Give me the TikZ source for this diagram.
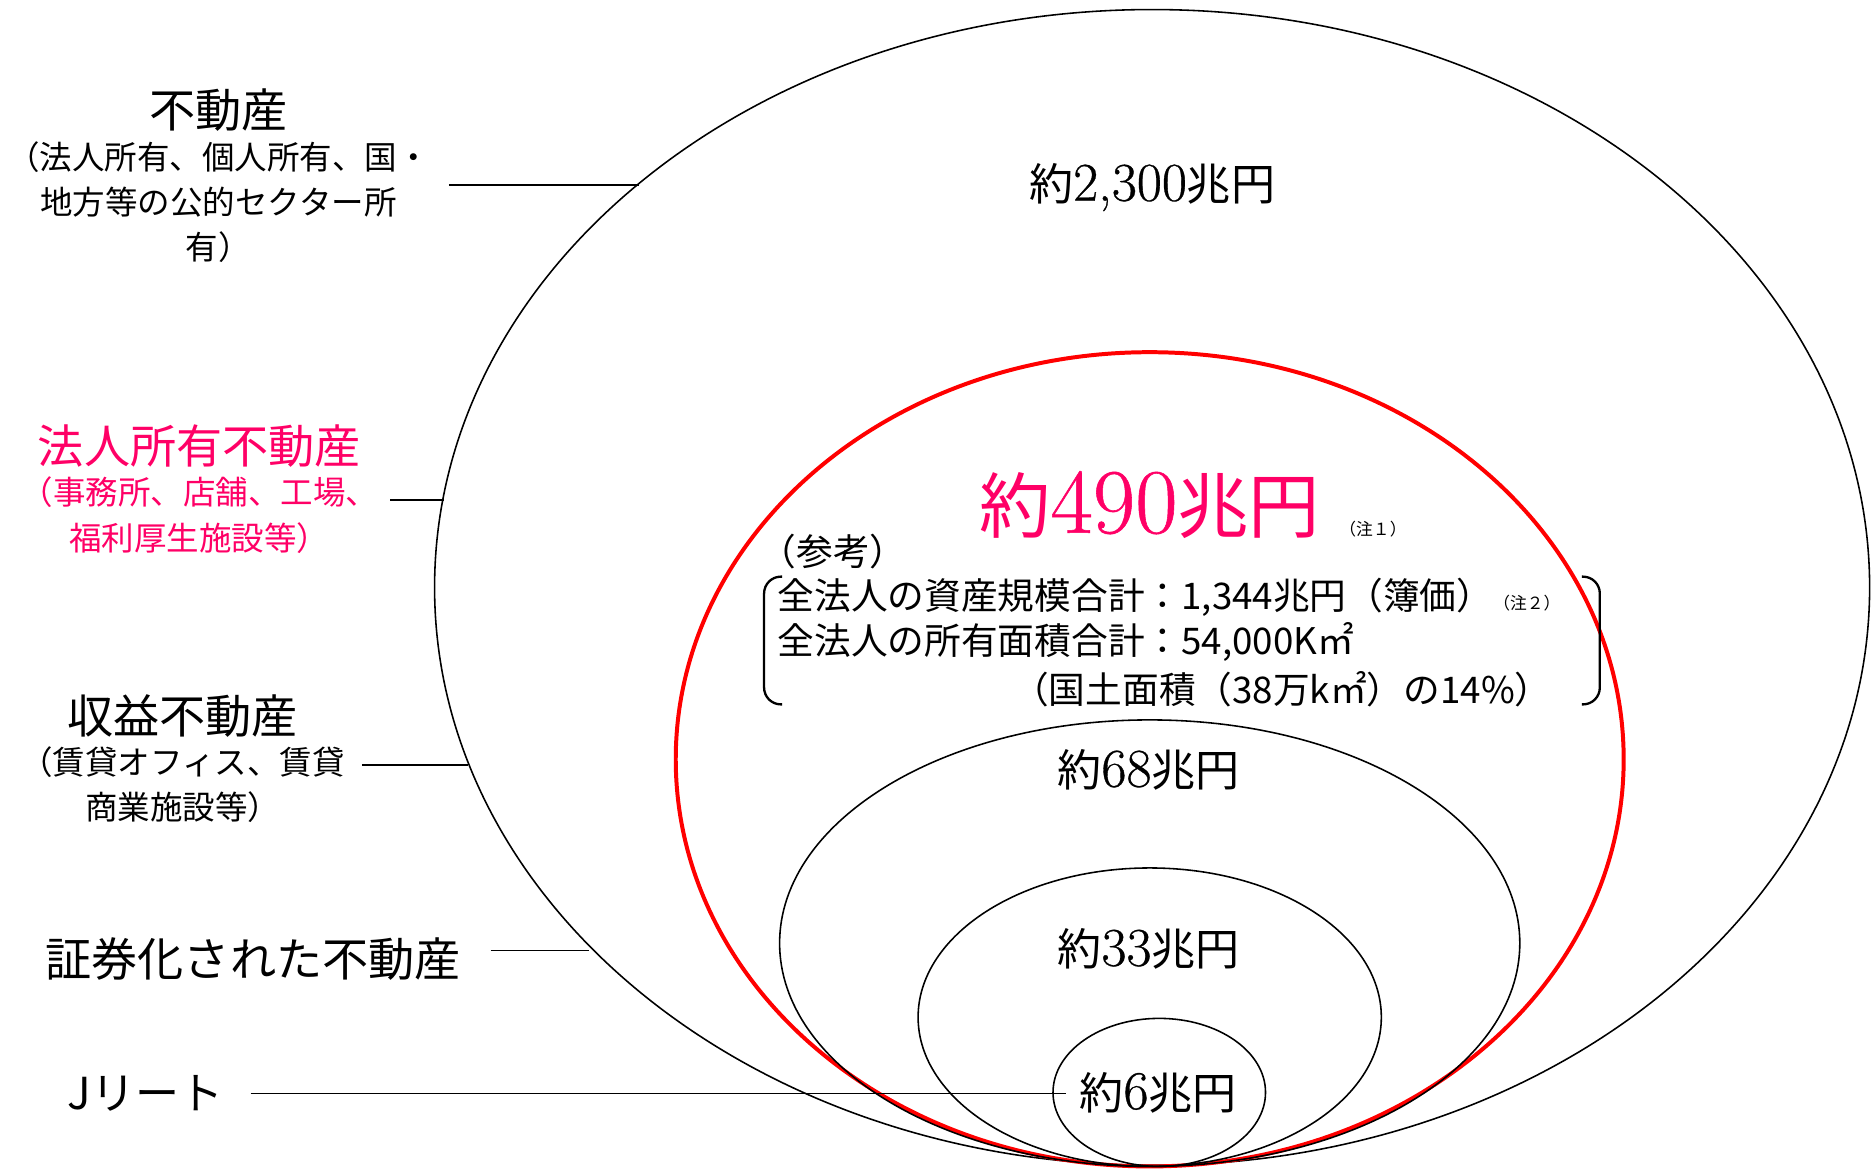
\documentclass[tikz,border=0pt]{standalone}
\usepackage{fontspec}
\setmainfont{Noto Sans CJK JP}
\newfontfamily\numfont{Latin Modern Roman}[FakeBold=0.6]
\usetikzlibrary{positioning}
\definecolor{rose}{RGB}{255,0,102}
\newcommand{\chouen}[3]{\fontsize{#1}{#1}\selectfont 約{\numfont\fontsize{#2}{#2}\selectfont #3}兆円}

\begin{document}
\begin{tikzpicture}[x=0.02cm,y=-0.02cm,
  every node/.style={inner sep=0pt},
  ring/.style={draw, line width=0.75pt},
  lead/.style={draw, line width=0.75pt},
  head/.style={font=\fontsize{22}{26}\selectfont},
  sub/.style={font=\fontsize{15.5}{21.5}\selectfont, align=center},
  memo/.style={font=\fontsize{17.5}{20}\selectfont},
  brace/.style={draw, line width=1.1pt, rounded corners=8pt}]
\useasboundingbox (0,0) rectangle (1568,979);
\draw[ring] (965,492) ellipse [x radius=601, y radius=484];
\draw[ring, red, line width=1.9pt] (963,636) ellipse [x radius=397, y radius=341];
\draw[ring] (963,790) ellipse [x radius=310, y radius=187];
\draw[ring] (963,852) ellipse [x radius=194, y radius=125];
\draw[ring] (971,915) ellipse [x radius=89, y radius=62];

\node (total) at (965,157) {\chouen{21}{26}{2,300}};
\node[text=rose] (corpamt) at (963,423) {\chouen{34}{44}{490}};
\node[font=\fontsize{8}{8}\selectfont] (note1) at (1150,443) {（注１）};
\node[memo, anchor=west] (ref) at (636,462) {（参考）};
\node[memo, anchor=west] (asset) at (651,500) {全法人の資産規模合計：1,344兆円（簿価）{\fontsize{8}{8}\selectfont （注２）}};
\node[memo, anchor=west] (area) at (651,538) {全法人の所有面積合計：54,000K㎡};
\node[memo, anchor=east] (land) at (1300,577) {（国土面積（38万k㎡）の14\%）};
\draw[brace] (655,483) -- (640,483) -- (640,590) -- (655,590);
\draw[brace] (1325,483) -- (1340,483) -- (1340,590) -- (1325,590);
\node (incamt) at (962,645) {\chouen{21}{26}{68}};
\node (secamt) at (962,795) {\chouen{21}{26}{33}};
\node (jramt) at (970,915) {\chouen{21}{26}{6}};

\node[head] (re) at (183,92) {不動産};
\node[sub, below=4.5pt of re] (resub) {（法人所有、個人所有、国・\\地方等の公的セクター所\\有）};
\node[head, text=rose] (corp) at (167,374) {法人所有不動産};
\node[sub, text=rose, below=4pt of corp] (corpsub) {（事務所、店舗、工場、\\福利厚生施設等）};
\node[head] (inc) at (153,600) {収益不動産};
\node[sub, below=4pt of inc] (incsub) {（賃貸オフィス、賃貸\\商業施設等）};
\node[head] (sec) at (212,803) {証券化された不動産};
\node[head, font=\fontsize{21}{26}\selectfont] (jr) at (122,916) {Jリート};

\coordinate (rea) at (376,155);
\coordinate (reb) at (535,155);
\coordinate (corpa) at (327,419);
\coordinate (corpb) at (372,419);
\coordinate (inca) at (303,641);
\coordinate (incb) at (392,641);
\coordinate (seca) at (411,796);
\coordinate (secb) at (493,796);
\coordinate (jra) at (210,916);
\coordinate (jrb) at (893,916);
\draw[lead] (rea) -- (reb);
\draw[lead] (corpa) -- (corpb);
\draw[lead] (inca) -- (incb);
\draw[lead] (seca) -- (secb);
\draw[lead] (jra) -- (jrb);
\end{tikzpicture}
\end{document}
